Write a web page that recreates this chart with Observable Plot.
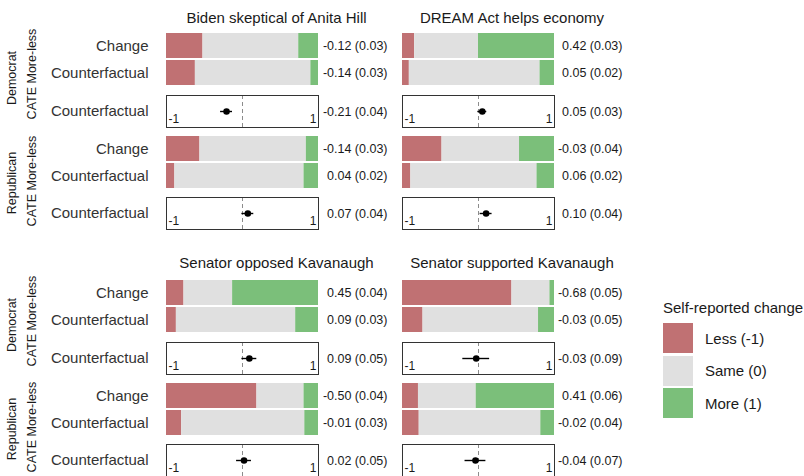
<!DOCTYPE html>
<html>
<head>
<meta charset="utf-8">
<script src="https://cdn.jsdelivr.net/npm/d3@7"></script>
<script src="https://cdn.jsdelivr.net/npm/@observablehq/plot@0.6"></script>
<style>
  body { margin: 0; background: #fff; font-family: "Liberation Sans", Arial, sans-serif; }
  #chart { position: relative; width: 804px; height: 476px; overflow: hidden; background: #fff; }
  .title { position: absolute; font-size: 15px; color: #1a1a1a; transform: translate(-50%, -50%); white-space: nowrap; }
  .strip { position: absolute; font-size: 12.5px; color: #1a1a1a; transform: translate(-50%, -50%) rotate(-90deg); white-space: nowrap; }
  .legend { position: absolute; font-size: 15px; color: #1a1a1a; }
  .legend .lt { line-height: 18px; margin-bottom: 6px; white-space: nowrap; }
  .legend .item { display: flex; align-items: center; margin-bottom: 2.5px; }
  .legend .sw { width: 30px; height: 30px; margin-right: 12px; }
</style>
</head>
<body>
<div id="chart"></div>
<script>
// ---------------- data ----------------
const panelTitles = [
  "Biden skeptical of Anita Hill",
  "DREAM Act helps economy",
  "Senator opposed Kavanaugh",
  "Senator supported Kavanaugh"
];
const parties = ["Democrat", "Republican"];
const stripLabel = "CATE More-less";
const rowTypes = ["Change", "Counterfactual"];
const cateRow = "Counterfactual";
const categories = ["Less (-1)", "Same (0)", "More (1)"];
const categoryColors = ["#c07173", "#e0e0e0", "#7bbf7a"];

// shares per panel, in order: Dem Change, Dem Counterfactual, Rep Change, Rep Counterfactual
const lessShare = [
  [0.24, 0.19, 0.22, 0.055],
  [0.08, 0.045, 0.26, 0.055],
  [0.115, 0.065, 0.595, 0.10],
  [0.72, 0.135, 0.105, 0.11]
];
const sameShare = [
  [0.63, 0.76, 0.70, 0.85],
  [0.42, 0.86, 0.51, 0.83],
  [0.32, 0.785, 0.31, 0.81],
  [0.25, 0.76, 0.38, 0.80]
];
const moreShare = [
  [0.13, 0.05, 0.08, 0.095],
  [0.50, 0.095, 0.23, 0.115],
  [0.565, 0.15, 0.095, 0.09],
  [0.03, 0.105, 0.515, 0.09]
];
// net More-less estimates (and SE) shown to the right of each bar
const netEst = [
  [-0.12, -0.14, -0.14, 0.04],
  [0.42, 0.05, -0.03, 0.06],
  [0.45, 0.09, -0.50, -0.01],
  [-0.68, -0.03, 0.41, -0.02]
];
const netSE = [
  [0.03, 0.03, 0.03, 0.02],
  [0.03, 0.02, 0.04, 0.02],
  [0.04, 0.03, 0.04, 0.03],
  [0.05, 0.05, 0.06, 0.04]
];
// CATE estimates per panel: [Democrat, Republican]
const cateEst = [
  [-0.21, 0.07],
  [0.05, 0.10],
  [0.09, 0.02],
  [-0.03, -0.04]
];
const cateSE = [
  [0.04, 0.04],
  [0.03, 0.04],
  [0.05, 0.05],
  [0.09, 0.07]
];
const cateTicks = [-1, 1];
const cateTickLabels = ["-1", "1"];
const zeroLine = [0];

// ---------------- layout ----------------
const colLayout = [
  { left: 0,   width: 400, ml: 166, mr: 82,  dx: 69, axis: true,  titleX: 276.5 },
  { left: 390, width: 300, ml: 12,  mr: 136, dx: 68, axis: false, titleX: 512 }
];
const rowLayout = [
  { titleY: 16.5,  moreLessTop: [33.3, 136],   cateTop: [95, 197],   partyY: [78, 183],   stripY: [74, 181] },
  { titleY: 261.5, moreLessTop: [280, 382.7],  cateTop: [342, 443.5], partyY: [324.5, 429], stripY: [320.5, 427] }
];

const chart = document.getElementById("chart");
const baseStyle = {
  background: "transparent",
  overflow: "visible",
  fontFamily: '"Liberation Sans", Arial, sans-serif',
  color: "#333"
};
const fmt = (e, s) => `${e.toFixed(2)} (${s.toFixed(2)})`;

function place(el, left, top, width) {
  const div = document.createElement("div");
  div.style.position = "absolute";
  div.style.left = left + "px";
  div.style.top = top + "px";
  if (width) div.style.width = width + "px";
  div.appendChild(el);
  chart.appendChild(div);
}

function moreLessPlot(p, k, col) {
  const L = colLayout[col];
  const stack = [];
  const labels = [];
  rowTypes.forEach((row, r) => {
    const j = k * 2 + r;
    const shares = [lessShare[p][j], sameShare[p][j], moreShare[p][j]];
    categories.forEach((cat, c) => stack.push({ row, cat, value: shares[c] }));
    labels.push({ row, label: fmt(netEst[p][j], netSE[p][j]) });
  });
  return Plot.plot({
    width: L.width, height: 52,
    marginLeft: L.ml, marginRight: L.mr, marginTop: 0, marginBottom: 0,
    style: baseStyle,
    x: { domain: [0, 1], axis: null },
    y: { type: "band", domain: rowTypes, paddingInner: 0.09, paddingOuter: 0, axis: L.axis ? undefined : null },
    color: { domain: categories, range: categoryColors },
    marks: [
      Plot.barX(stack, { x: "value", y: "row", fill: "cat" }),
      Plot.text(labels, { y: "row", text: "label", frameAnchor: "right", textAnchor: "end", dx: L.dx, fontSize: 12.5, fill: "#1a1a1a" }),
      L.axis ? Plot.axisY({ tickSize: 0, tickPadding: 18, fontSize: 15, label: null, fill: "#333" }) : null
    ]
  });
}

function catePlot(p, k, col) {
  const L = colLayout[col];
  const d = [{ row: cateRow, est: cateEst[p][k], se: cateSE[p][k] }];
  const ticks = cateTicks.map((t, i) => ({ t, label: cateTickLabels[i] }));
  return Plot.plot({
    width: L.width, height: 32,
    marginLeft: L.ml, marginRight: L.mr, marginTop: 0, marginBottom: 0,
    style: baseStyle,
    x: { domain: [-1, 1], axis: null },
    y: { type: "band", domain: [cateRow], padding: 0, axis: L.axis ? undefined : null },
    marks: [
      Plot.ruleX(zeroLine, { stroke: "#8c8c8c", strokeDasharray: "4,3" }),
      Plot.text(ticks.filter(v => v.t < 0), { x: "t", text: "label", frameAnchor: "bottom", lineAnchor: "middle", textAnchor: "start", dx: 2, dy: -8, fontSize: 12, fill: "#1a1a1a" }),
      Plot.text(ticks.filter(v => v.t > 0), { x: "t", text: "label", frameAnchor: "bottom", lineAnchor: "middle", textAnchor: "end", dx: -2, dy: -8, fontSize: 12, fill: "#1a1a1a" }),
      Plot.ruleY(d, { y: "row", x1: v => v.est - 1.96 * v.se, x2: v => v.est + 1.96 * v.se, stroke: "#000", strokeWidth: 1.4 }),
      Plot.dot(d, { x: "est", y: "row", r: 3.3, fill: "#000" }),
      Plot.text(d, { y: "row", text: v => fmt(v.est, v.se), frameAnchor: "right", textAnchor: "end", dx: L.dx, fontSize: 12.5, fill: "#1a1a1a" }),
      Plot.frame({ stroke: "#333" }),
      L.axis ? Plot.axisY({ tickSize: 0, tickPadding: 18, fontSize: 15, label: null, fill: "#333" }) : null
    ]
  });
}

panelTitles.forEach((title, p) => {
  const col = p % 2, prow = Math.floor(p / 2);
  const L = colLayout[col], R = rowLayout[prow];
  const t = document.createElement("div");
  t.className = "title";
  t.textContent = title;
  t.style.left = L.titleX + "px";
  t.style.top = R.titleY + "px";
  chart.appendChild(t);
  parties.forEach((party, k) => {
    place(moreLessPlot(p, k, col), L.left, R.moreLessTop[k], L.width);
    place(catePlot(p, k, col), L.left, R.cateTop[k], L.width);
  });
});

// strip labels on the left
rowLayout.forEach(R => {
  parties.forEach((party, k) => {
    const a = document.createElement("div");
    a.className = "strip";
    a.textContent = party;
    a.style.left = "12px";
    a.style.top = R.partyY[k] + "px";
    chart.appendChild(a);
    const b = document.createElement("div");
    b.className = "strip";
    b.textContent = stripLabel;
    b.style.left = "32px";
    b.style.top = R.stripY[k] + "px";
    chart.appendChild(b);
  });
});

// legend
const legend = document.createElement("div");
legend.className = "legend";
legend.style.left = "663px";
legend.style.top = "299px";
const lt = document.createElement("div");
lt.className = "lt";
lt.textContent = "Self-reported change";
legend.appendChild(lt);
categories.forEach((cat, i) => {
  const item = document.createElement("div");
  item.className = "item";
  const sw = document.createElement("div");
  sw.className = "sw";
  sw.style.background = categoryColors[i];
  const lab = document.createElement("span");
  lab.textContent = cat;
  item.appendChild(sw);
  item.appendChild(lab);
  legend.appendChild(item);
});
chart.appendChild(legend);
</script>
</body>
</html>
